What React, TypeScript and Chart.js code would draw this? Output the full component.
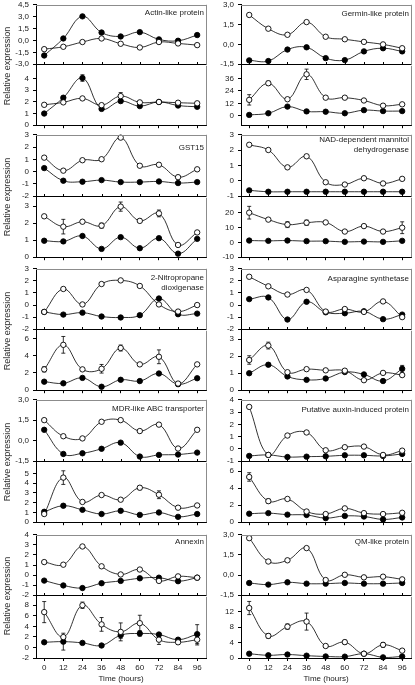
import React, { useEffect, useRef } from 'react';
import { Chart, registerables } from 'chart.js';
Chart.register(...registerables);

// ---------- DATA ----------
const HOURS = [0, 12, 24, 36, 48, 60, 72, 84, 96];

// Actin-like protein
const actinTopOpen = [-1.1, -0.8, -0.2, 0.25, -0.42, -0.89, -0.2, -0.38, -0.59];
const actinTopFilled = [-1.9, 0.25, 3.04, 1.0, 0.5, 1.05, 0.13, -0.04, 0.68];
const actinBotOpen = [1.75, 1.96, 2.3, 1.72, 2.5, 1.96, 1.99, 1.93, 1.88];
const actinBotOpenErr = [0, 0.05, 0, 0.15, 0.3, 0.1, 0.05, 0.1, 0.15];
const actinBotFilled = [1.0, 2.36, 4.05, 1.4, 2.07, 1.64, 2.0, 1.69, 1.58];
const actinBotFilledErr = [0, 0.12, 0.28, 0.08, 0.15, 0.08, 0.05, 0.05, 0.05];

// GST15
const gstTopOpen = [1.14, 0.08, 0.93, 1.01, 2.77, 0.48, 0.56, -0.45, 0.19];
const gstTopFilled = [0.29, -0.74, -0.82, -0.69, -0.85, -0.85, -0.8, -0.93, -0.85];
const gstBotOpen = [2.41, 1.8, 2.09, 1.86, 2.98, 2.14, 2.58, 0.72, 1.46];
const gstBotOpenErr = [0.05, 0.43, 0.08, 0.15, 0.27, 0.1, 0.2, 0.03, 0.05];
const gstBotFilled = [0.97, 0.93, 1.25, 0.49, 1.18, 0.53, 1.12, 0.21, 1.08];

// 2-Nitropropane dioxigenase
const nitroTopOpen = [-0.57, 1.33, 0.05, 1.74, 2.04, 1.58, 0.05, -0.54, 0.0];
const nitroTopFilled = [-0.57, -0.79, -0.63, -0.95, -1.03, -0.84, 0.54, -0.76, -0.71];
const nitroBotOpen = [2.42, 5.27, 2.42, 2.49, 4.9, 3.0, 3.88, 0.77, 3.0];
const nitroBotOpenErr = [0.3, 0.97, 0.1, 0.5, 0.35, 0.1, 0.8, 0.05, 0.1];
const nitroBotFilled = [0.99, 0.8, 1.43, 0.4, 1.21, 1.06, 1.94, 0.7, 1.39];
const nitroBotFilledErr = [0, 0, 0.05, 0, 0.05, 0, 0.15, 0, 0.1];

// MDR-like ABC transporter
const mdrTopOpen = [1.51, 0.33, 0.17, 1.39, 1.51, 0.71, 1.18, -0.57, 0.8];
const mdrTopFilled = [0.8, -0.97, -0.92, -0.59, -0.14, -1.16, -1.04, -1.01, -0.87];
const mdrBotOpen = [0.84, 4.58, 2.08, 2.79, 2.31, 3.54, 2.82, 1.49, 1.72];
const mdrBotOpenErr = [0.05, 0.7, 0.15, 0.15, 0.15, 0.2, 0.4, 0.05, 0.05];
const mdrBotFilled = [1.07, 1.69, 1.27, 0.84, 1.17, 0.75, 1.0, 0.55, 0.84];
const mdrBotFilledErr = [0.05, 0.15, 0.05, 0.05, 0.05, 0.05, 0.05, 0.05, 0.05];

// Annexin
const annexTopOpen = [1.29, 1.03, 2.84, 0.87, 0.06, 0.55, -0.58, -0.13, -0.26];
const annexTopFilled = [-0.55, -1.03, -1.29, -0.81, -0.58, -0.32, -0.26, -0.61, -0.26];
const annexBotOpen = [6.7, 1.97, 8.0, 4.37, 2.95, 4.6, 1.47, 0.98, 1.47];
const annexBotOpenErr = [2.0, 0.3, 0.6, 1.3, 1.7, 1.5, 0.9, 0.3, 1.0];
const annexBotFilled = [0.98, 1.1, 0.86, 0.37, 2.33, 2.64, 2.45, 1.47, 2.52];
const annexBotFilledErr = [0.1, 1.6, 0.1, 0.1, 0.6, 0.5, 0.2, 0.2, 1.8];

// Germin-like protein
const germTopOpen = [2.23, 1.19, 0.73, 1.69, 0.58, 0.39, 0.19, 0.0, -0.29];
const germTopFilled = [-1.21, -1.26, -0.39, -0.22, -1.04, -1.19, -0.53, -0.29, -0.53];
const germBotOpen = [15.4, 31.4, 16, 40, 17.5, 17.5, 14.8, 9.8, 11.1];
const germBotOpenErr = [5, 2, 0.5, 5, 1, 0.5, 0.5, 0.5, 0.5];
const germBotFilled = [0.9, 2.5, 8.9, 4.3, 4.0, 2.5, 5.5, 4.6, 4.6];

// NAD-dependent mannitol dehydrogenase
const nadTopOpen = [2.35, 2.01, 0.88, 1.6, -0.09, -0.24, 0.17, -0.17, 0.13];
const nadTopFilled = [-0.62, -0.71, -0.71, -0.71, -0.71, -0.71, -0.71, -0.71, -0.71];
const nadBotOpen = [20.2, 15.5, 12.1, 13.4, 13.6, 7.4, 11.1, 7.4, 10];
const nadBotOpenErr = [4.3, 0.5, 2, 1.8, 0.5, 0.3, 0.5, 0.3, 4];
const nadBotFilled = [1.3, 1.1, 1.3, 0.9, 0.9, 0.4, 0.6, 0.4, 1.1];

// Asparagine synthetase
const aspTopOpen = [2.34, 1.55, 0.87, 1.25, -0.54, -0.33, -0.57, 0.3, -1.0];
const aspTopFilled = [0.49, 0.63, -1.2, 0.27, -0.6, -0.68, -0.52, -1.17, -0.79];
const aspBotOpen = [1.78, 2.63, 1.06, 1.24, 1.17, 1.15, 0.59, 1.02, 0.89];
const aspBotOpenErr = [0.25, 0.2, 0.03, 0.05, 0.08, 0.1, 0.03, 0.03, 0.07];
const aspBotFilled = [1.0, 1.5, 0.81, 0.61, 0.69, 1.07, 0.93, 0.54, 1.26];
const aspBotFilledErr = [0.03, 0.1, 0.03, 0.03, 0.03, 0.05, 0.03, 0.03, 0.2];

// Putative auxin-induced protein
const auxTopOpen = [3.42, -0.49, 1.09, 1.34, -0.11, 0.14, 0.19, -0.49, -0.14];
const auxTopFilled = [-0.57, -0.49, -0.66, -0.63, -0.6, -0.52, -0.52, -0.57, -0.41];
const auxBotOpen = [5.33, 2.48, 2.74, 1.26, 0.96, 1.63, 1.07, 0.96, 1.11];
const auxBotOpenErr = [0.5, 0.25, 0.1, 0.05, 0.05, 0.05, 0.05, 0.05, 0.05];
const auxBotFilled = [1.0, 1.07, 0.89, 0.85, 0.48, 0.74, 0.67, 0.33, 0.56];

// QM-like protein
const qmTopOpen = [2.75, 1.01, 1.1, 2.01, -0.37, 0.02, -0.17, -0.12, -0.32];
const qmTopFilled = [-0.59, -0.71, -0.54, -0.64, -0.64, -0.59, -0.64, -0.64, -0.59];
const qmBotOpen = [12.9, 5.7, 8.1, 9.4, 3.1, 4.1, 1.1, 3.4, 1.9];
const qmBotOpenErr = [1.7, 0.6, 0.7, 2.2, 0.4, 0.5, 0.2, 0.6, 0.2];
const qmBotFilled = [1.1, 0.7, 0.9, 0.6, 0.4, 0.35, 1.1, 0.17, 0.4];

// Tick values / labels
const T_45 = [-3, -1.5, 0, 1.5, 3, 4.5];
const L_45 = ['-3,0', '-1,5', '0,0', '1,5', '3,0', '4,5'];
const T_30 = [-1.5, 0, 1.5, 3];
const L_30 = ['-1,5', '0,0', '1,5', '3,0'];
const T_m2_3 = [-2, -1, 0, 1, 2, 3];
const L_m2_3 = ['-2', '-1', '0', '1', '2', '3'];
const T_m2_4 = [-2, -1, 0, 1, 2, 3, 4];
const L_m2_4 = ['-2', '-1', '0', '1', '2', '3', '4'];
const T_m1_3 = [-1, 0, 1, 2, 3];
const L_m1_3 = ['-1', '0', '1', '2', '3'];
const T_m1_4 = [-1, 0, 1, 2, 3, 4];
const L_m1_4 = ['-1', '0', '1', '2', '3', '4'];
const T_0_3 = [0, 1, 2, 3];
const L_0_3 = ['0', '1', '2', '3'];
const T_0_4 = [0, 1, 2, 3, 4];
const L_0_4 = ['0', '1', '2', '3', '4'];
const T_0_5 = [0, 1, 2, 3, 4, 5];
const L_0_5 = ['0', '1', '2', '3', '4', '5'];
const T_0_6 = [0, 2, 4, 6];
const L_0_6 = ['0', '2', '4', '6'];
const T_m2_8 = [-2, 0, 2, 4, 6, 8];
const L_m2_8 = ['-2', '0', '2', '4', '6', '8'];
const T_0_36 = [0, 12, 24, 36];
const L_0_36 = ['0', '12', '24', '36'];
const T_m10_20 = [-10, 0, 10, 20];
const L_m10_20 = ['-10', '0', '10', '20'];
const T_0_12 = [0, 4, 8, 12];
const L_0_12 = ['0', '4', '8', '12'];
const X_LABELS = ['0', '12', '24', '36', '48', '60', '72', '84', '96'];

const LEFT_TITLES = [['Actin-like protein'], ['GST15'], ['2-Nitropropane', 'dioxigenase'], ['MDR-like ABC transporter'], ['Annexin']];
const RIGHT_TITLES = [['Germin-like protein'], ['NAD-dependent mannitol', 'dehydrogenase'], ['Asparagine synthetase'], ['Putative auxin-induced protein'], ['QM-like protein']];

type PanelDef = { open: number[]; openErr?: number[]; filled: number[]; filledErr?: number[]; min: number; max: number; ticks: number[]; labels: string[] };

const LEFT_PANELS: PanelDef[][] = [
  [
    { open: actinTopOpen, filled: actinTopFilled, min: -3, max: 4.5, ticks: T_45, labels: L_45 },
    { open: actinBotOpen, openErr: actinBotOpenErr, filled: actinBotFilled, filledErr: actinBotFilledErr, min: 0, max: 5.1, ticks: T_0_4, labels: L_0_4 },
  ],
  [
    { open: gstTopOpen, filled: gstTopFilled, min: -2, max: 3, ticks: T_m2_3, labels: L_m2_3 },
    { open: gstBotOpen, openErr: gstBotOpenErr, filled: gstBotFilled, min: 0, max: 3.5, ticks: T_0_3, labels: L_0_3 },
  ],
  [
    { open: nitroTopOpen, filled: nitroTopFilled, min: -2, max: 3, ticks: T_m2_3, labels: L_m2_3 },
    { open: nitroBotOpen, openErr: nitroBotOpenErr, filled: nitroBotFilled, filledErr: nitroBotFilledErr, min: 0, max: 6.9, ticks: T_0_6, labels: L_0_6 },
  ],
  [
    { open: mdrTopOpen, filled: mdrTopFilled, min: -1.5, max: 3, ticks: T_30, labels: L_30 },
    { open: mdrBotOpen, openErr: mdrBotOpenErr, filled: mdrBotFilled, filledErr: mdrBotFilledErr, min: 0, max: 6.1, ticks: T_0_5, labels: L_0_5 },
  ],
  [
    { open: annexTopOpen, filled: annexTopFilled, min: -2, max: 4, ticks: T_m2_4, labels: L_m2_4 },
    { open: annexBotOpen, openErr: annexBotOpenErr, filled: annexBotFilled, filledErr: annexBotFilledErr, min: -2, max: 9.6, ticks: T_m2_8, labels: L_m2_8 },
  ],
];

const RIGHT_PANELS: PanelDef[][] = [
  [
    { open: germTopOpen, filled: germTopFilled, min: -1.5, max: 3, ticks: T_30, labels: L_30 },
    { open: germBotOpen, openErr: germBotOpenErr, filled: germBotFilled, min: -9, max: 48.2, ticks: T_0_36, labels: L_0_36 },
  ],
  [
    { open: nadTopOpen, filled: nadTopFilled, min: -1, max: 3, ticks: T_m1_3, labels: L_m1_3 },
    { open: nadBotOpen, openErr: nadBotOpenErr, filled: nadBotFilled, min: -10, max: 30.3, ticks: T_m10_20, labels: L_m10_20 },
  ],
  [
    { open: aspTopOpen, filled: aspTopFilled, min: -2, max: 3, ticks: T_m2_3, labels: L_m2_3 },
    { open: aspBotOpen, openErr: aspBotOpenErr, filled: aspBotFilled, filledErr: aspBotFilledErr, min: 0, max: 3.5, ticks: T_0_3, labels: L_0_3 },
  ],
  [
    { open: auxTopOpen, filled: auxTopFilled, min: -1, max: 4, ticks: T_m1_4, labels: L_m1_4 },
    { open: auxBotOpen, openErr: auxBotOpenErr, filled: auxBotFilled, min: 0, max: 7, ticks: T_0_6, labels: L_0_6 },
  ],
  [
    { open: qmTopOpen, filled: qmTopFilled, min: -1.5, max: 3, ticks: T_30, labels: L_30 },
    { open: qmBotOpen, openErr: qmBotOpenErr, filled: qmBotFilled, min: 0, max: 15.8, ticks: T_0_12, labels: L_0_12 },
  ],
];

// ---------- LAYOUT ----------
const FONT = '"Liberation Sans", Arial, sans-serif';
const TEXT = '#222';
const COL_PLOT_LEFT = [36, 241];
const COL_PLOT_RIGHT = [208, 413];
const BLOCK_TOP = [4, 134, 268, 399, 534];
const BLOCK_MID = [65, 197, 330, 462, 596];
const BLOCK_BOTTOM = [128, 260, 393, 525, 658];
const TITLE_DY = [[9, 14, 10, 10, 8], [10, 6, 11, 11, 8]];
const Y_AXIS_W = 36;
const PAD = 8;
const PAD_R = 3;
const X_MIN = -5.15;
const X_MAX = 101.6;

const errorBarPlugin = {
  id: 'errbars',
  beforeDatasetsDraw(chart: any) {
    const ctx = chart.ctx;
    const ys = chart.scales.y;
    chart.data.datasets.forEach((ds: any, di: number) => {
      const errs = ds.errors;
      if (!errs) return;
      const meta = chart.getDatasetMeta(di);
      meta.data.forEach((pt: any, i: number) => {
        const e = errs[i];
        if (!e) return;
        const v = ds.data[i].y;
        const y1 = ys.getPixelForValue(v + e);
        const y2 = ys.getPixelForValue(v - e);
        ctx.save();
        ctx.strokeStyle = '#000';
        ctx.lineWidth = 0.8;
        ctx.beginPath();
        ctx.moveTo(pt.x, y1);
        ctx.lineTo(pt.x, y2);
        ctx.moveTo(pt.x - 2, y1);
        ctx.lineTo(pt.x + 2, y1);
        ctx.moveTo(pt.x - 2, y2);
        ctx.lineTo(pt.x + 2, y2);
        ctx.stroke();
        ctx.restore();
      });
    });
  },
};

function makeFramePlugin(isTop: boolean) {
  return {
    id: 'frame',
    afterDraw(chart: any) {
      const { ctx, chartArea } = chart;
      const { left, right, top, bottom } = chartArea;
      ctx.save();
      ctx.lineWidth = 1;
      ctx.strokeStyle = '#8c8c8c';
      ctx.beginPath();
      const rx = Math.round(right) + 0.5;
      ctx.moveTo(rx, top);
      ctx.lineTo(rx, bottom);
      if (isTop) {
        const ty = Math.round(top) + 0.5;
        ctx.moveTo(left, ty);
        ctx.lineTo(rx, ty);
      }
      ctx.stroke();
      if (isTop) {
        const by = Math.round(bottom) + 0.5;
        ctx.strokeStyle = '#000';
        ctx.beginPath();
        ctx.moveTo(left, by);
        ctx.lineTo(rx, by);
        const xs = chart.scales.x;
        HOURS.forEach((h) => {
          const px = Math.round(xs.getPixelForValue(h)) + 0.5;
          ctx.moveTo(px, by);
          ctx.lineTo(px, by - 2.5);
        });
        ctx.stroke();
      }
      ctx.restore();
    },
  };
}

function Panel(props: { def: PanelDef; col: number; block: number; isTop: boolean }) {
  const { def, col, block, isTop } = props;
  const ref = useRef<HTMLCanvasElement>(null);
  const isLast = !isTop && block === BLOCK_TOP.length - 1;
  const plotLeft = COL_PLOT_LEFT[col];
  const plotRight = COL_PLOT_RIGHT[col];
  const plotTop = isTop ? BLOCK_TOP[block] : BLOCK_MID[block];
  const plotBottom = isTop ? BLOCK_MID[block] : BLOCK_BOTTOM[block];
  const xAxisH = isTop ? 0 : isLast ? 26 : 6;
  const padB = isTop ? PAD : 0;
  const cLeft = plotLeft - Y_AXIS_W;
  const cTop = plotTop - PAD;
  const cW = plotRight - plotLeft + Y_AXIS_W + PAD_R;
  const cH = PAD + (plotBottom - plotTop) + xAxisH + padB;

  useEffect(() => {
    const mk = (vals: number[]) => HOURS.map((h, i) => ({ x: h, y: vals[i] }));
    const common = {
      borderColor: '#000',
      borderWidth: 0.8,
      pointRadius: 2.7,
      pointBorderColor: '#000',
      pointBorderWidth: 0.9,
      tension: 0.4,
      fill: false,
      clip: false,
    };
    const chart = new Chart(ref.current as HTMLCanvasElement, {
      type: 'line',
      data: {
        datasets: [
          { ...common, data: mk(def.open), pointBackgroundColor: '#fff', errors: def.openErr } as any,
          { ...common, data: mk(def.filled), pointBackgroundColor: '#000', errors: def.filledErr } as any,
        ],
      },
      options: {
        responsive: false,
        animation: false,
        devicePixelRatio: 1,
        events: [],
        layout: { padding: { top: PAD, bottom: padB, left: 0, right: PAD_R } },
        plugins: { legend: { display: false }, tooltip: { enabled: false } },
        scales: {
          x: {
            type: 'linear',
            min: X_MIN,
            max: X_MAX,
            display: !isTop,
            afterFit: (s: any) => { s.height = xAxisH; },
            afterBuildTicks: (s: any) => { s.ticks = HOURS.map((v) => ({ value: v })); },
            ticks: {
              display: isLast,
              autoSkip: false,
              maxRotation: 0,
              padding: 2,
              color: TEXT,
              font: { family: FONT, size: 8 },
              callback: (_v: any, i: number) => X_LABELS[i],
            },
            grid: { drawOnChartArea: false, drawTicks: true, tickLength: 3, color: '#000', lineWidth: 1 },
            border: { display: true, color: '#000', width: 1 },
            title: { display: isLast, text: 'Time (hours)', color: TEXT, font: { family: FONT, size: 8 }, padding: { top: 0, bottom: 0 } },
          },
          y: {
            type: 'linear',
            min: def.min,
            max: def.max,
            afterFit: (s: any) => { s.width = Y_AXIS_W; },
            afterBuildTicks: (s: any) => { s.ticks = def.ticks.map((v) => ({ value: v })); },
            ticks: {
              autoSkip: false,
              padding: 4,
              color: TEXT,
              font: { family: FONT, size: 8 },
              callback: (_v: any, i: number) => def.labels[i],
            },
            grid: { drawOnChartArea: false, drawTicks: true, tickLength: 3, color: '#000', lineWidth: 1 },
            border: { display: true, color: '#000', width: 1 },
          },
        },
      } as any,
      plugins: [errorBarPlugin, makeFramePlugin(isTop)],
    });
    return () => chart.destroy();
  }, []);

  return (
    <canvas
      ref={ref}
      width={cW}
      height={cH}
      style={{ position: 'absolute', left: cLeft, top: cTop, width: cW, height: cH }}
    />
  );
}

export default function App() {
  const cols = [LEFT_PANELS, RIGHT_PANELS];
  const titles = [LEFT_TITLES, RIGHT_TITLES];
  return (
    <div style={{ position: 'absolute', left: 0, top: 0, width: 415, height: 685, overflow: 'hidden', background: '#fff', fontFamily: FONT }}>
      {cols.map((blocks, c) =>
        blocks.map((pair, b) => (
          <React.Fragment key={`${c}-${b}`}>
            <Panel def={pair[0]} col={c} block={b} isTop={true} />
            <Panel def={pair[1]} col={c} block={b} isTop={false} />
            <div
              style={{
                position: 'absolute',
                right: 415 - (COL_PLOT_RIGHT[c] - 4),
                top: BLOCK_TOP[b] + TITLE_DY[c][b] - 5.5,
                fontSize: 8,
                lineHeight: '10.5px',
                color: TEXT,
                textAlign: 'right',
                whiteSpace: 'nowrap',
              }}
            >
              {titles[c][b].map((t, i) => (
                <div key={i}>{t}</div>
              ))}
            </div>
            {c === 0 && (
              <div
                style={{
                  position: 'absolute',
                  left: 7 - 60,
                  top: (BLOCK_TOP[b] + BLOCK_BOTTOM[b]) / 2 - 6,
                  width: 120,
                  height: 12,
                  lineHeight: '12px',
                  fontSize: 9,
                  color: TEXT,
                  textAlign: 'center',
                  transform: 'rotate(-90deg)',
                  whiteSpace: 'nowrap',
                }}
              >
                Relative expression
              </div>
            )}
          </React.Fragment>
        ))
      )}
    </div>
  );
}
